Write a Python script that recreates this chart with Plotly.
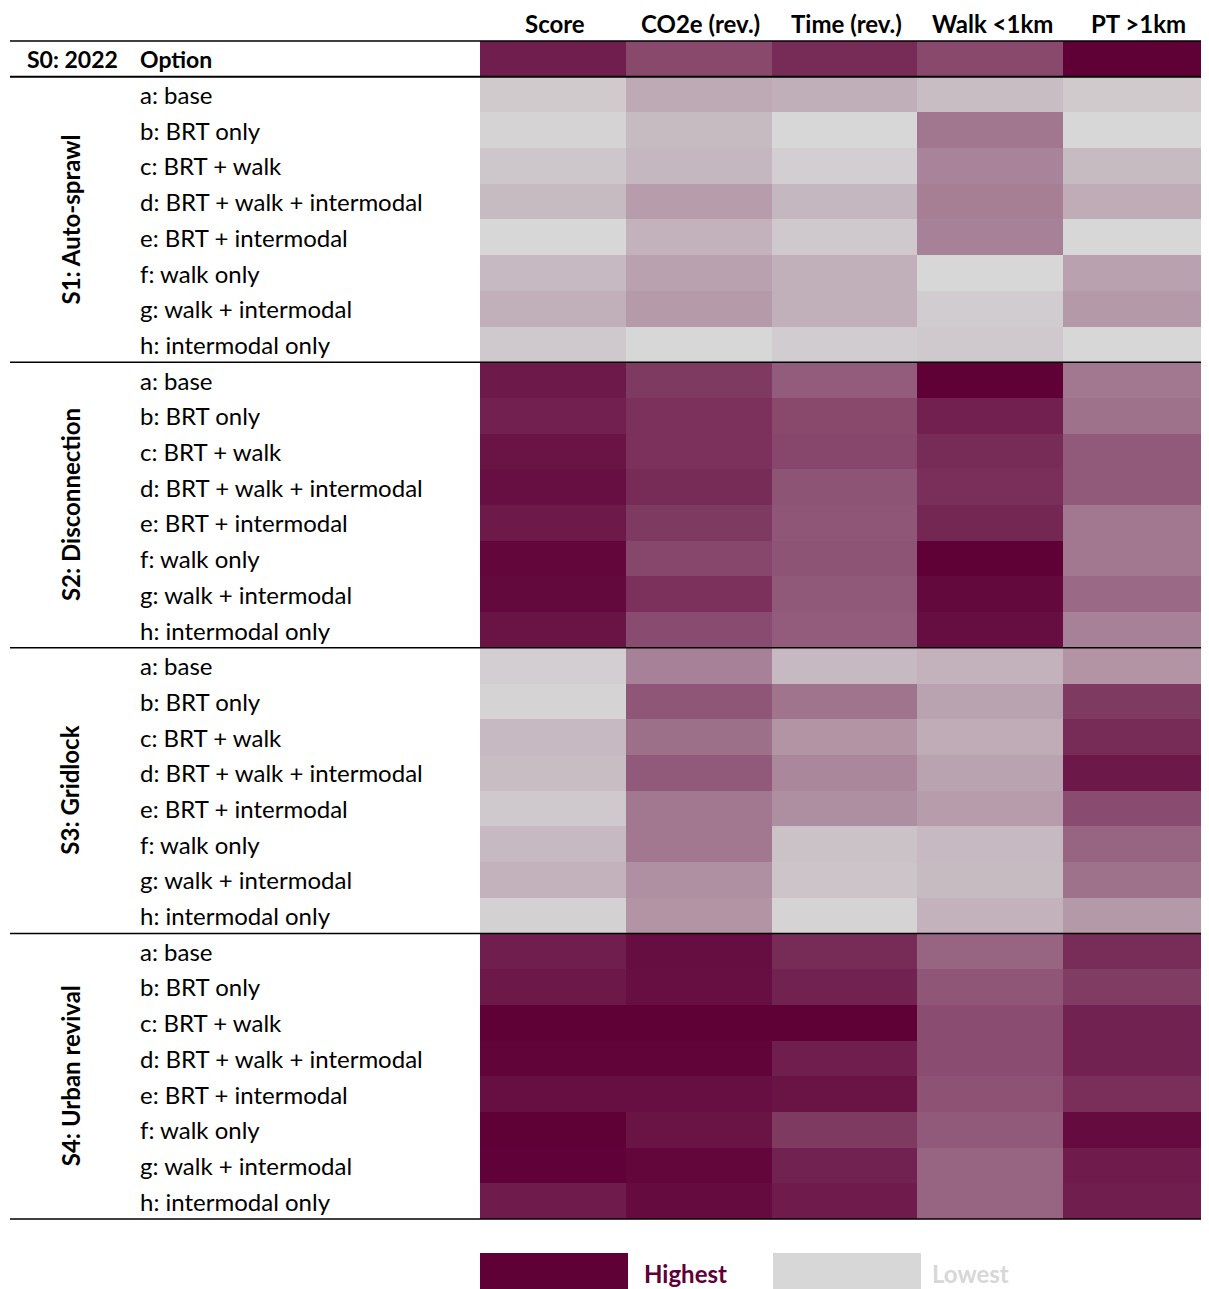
import plotly.graph_objects as go

# the page places the figure 8px in from the top-left corner
OFF = 8
W, H = 1209 - OFF, 1289 - OFF

columns = ["Score", "CO2e (rev.)", "Time (rev.)", "Walk <1km", "PT >1km"]
scenarios = ["S1: Auto-sprawl", "S2: Disconnection", "S3: Gridlock", "S4: Urban revival"]
options = ["a: base", "b: BRT only", "c: BRT + walk", "d: BRT + walk + intermodal",
           "e: BRT + intermodal", "f: walk only", "g: walk + intermodal", "h: intermodal only"]

# relative level per cell (1 = highest, 0 = lowest); first value = S0: 2022, then S1..S4 a..h
score = [0.86,
         0.06, 0.02, 0.08, 0.13, 0.00, 0.14, 0.18, 0.07,
         0.88, 0.85, 0.91, 0.93, 0.88, 0.97, 0.96, 0.91,
         0.04, 0.02, 0.14, 0.12, 0.07, 0.14, 0.17, 0.03,
         0.86, 0.89, 1.00, 0.98, 0.93, 1.00, 0.99, 0.87]
co2e = [0.66,
        0.21, 0.13, 0.15, 0.27, 0.17, 0.25, 0.28, 0.00,
        0.73, 0.77, 0.77, 0.80, 0.73, 0.67, 0.77, 0.65,
        0.40, 0.60, 0.48, 0.58, 0.44, 0.44, 0.33, 0.31,
        0.94, 0.93, 1.00, 0.98, 0.93, 0.91, 0.97, 0.95]
time_rev = [0.80,
            0.19, 0.00, 0.04, 0.15, 0.07, 0.18, 0.18, 0.05,
            0.57, 0.66, 0.67, 0.61, 0.60, 0.61, 0.59, 0.57,
            0.14, 0.46, 0.31, 0.37, 0.34, 0.10, 0.09, 0.02,
            0.80, 0.84, 1.00, 0.86, 0.91, 0.73, 0.84, 0.87]
walk = [0.66,
        0.12, 0.45, 0.39, 0.41, 0.40, 0.00, 0.05, 0.07,
        1.00, 0.85, 0.80, 0.78, 0.82, 1.00, 0.96, 0.94,
        0.17, 0.24, 0.20, 0.24, 0.27, 0.14, 0.13, 0.17,
        0.53, 0.60, 0.64, 0.64, 0.62, 0.58, 0.53, 0.53]
pt = [1.00,
      0.06, 0.00, 0.13, 0.20, 0.00, 0.25, 0.29, 0.00,
      0.44, 0.47, 0.58, 0.58, 0.44, 0.44, 0.51, 0.40,
      0.31, 0.73, 0.80, 0.89, 0.65, 0.53, 0.47, 0.29,
      0.79, 0.72, 0.84, 0.84, 0.78, 0.95, 0.87, 0.86]

DARK = "#5f0037"
LIGHT = "#d7d7d7"

series = [score, co2e, time_rev, walk, pt]
nrows = len(score)
z = [[series[c][r] for c in range(len(columns))] for r in range(nrows)]


def px(x):
    return (x - OFF) / W


def py(y):
    return 1 - (y - OFF) / H


TOP, BOTTOM = 41, 1219
ROW_H = (BOTTOM - TOP) / nrows
LEFT, RIGHT = 480, 1209

fig = go.Figure(go.Heatmap(
    z=z, x=list(range(len(columns))), y=list(range(nrows)),
    colorscale=[[0, LIGHT], [1, DARK]], zmin=0, zmax=1, showscale=False,
    hoverinfo="skip"))

fig.update_xaxes(domain=[px(LEFT), min(1, px(RIGHT))], range=[-0.5, len(columns) - 0.5],
                 visible=False, fixedrange=True)
fig.update_yaxes(domain=[py(BOTTOM), py(TOP)], range=[nrows - 0.5, -0.5],
                 visible=False, fixedrange=True)

FONT = "Lato, 'Open Sans', sans-serif"
FS = 24


def note(x, y, text, anchor="left", color="black", angle=0, size=FS):
    return dict(x=px(x), y=py(y), xref="paper", yref="paper", text=text, showarrow=False,
                xanchor=anchor, yanchor="middle", textangle=angle,
                font=dict(size=size, color=color, family=FONT))


ann = []
col_w = (W + OFF - LEFT) / len(columns)
for i, c in enumerate(columns):
    ann.append(note(LEFT + (i + 0.5) * col_w + 2, 23, "<b>%s</b>" % c, anchor="center"))


def row_center(r):
    return TOP + (r + 0.5) * ROW_H


ann.append(note(25, row_center(0), "<b>S0: 2022</b>", size=23))
ann.append(note(138, row_center(0), "<b>Option</b>", size=23))

for g, s in enumerate(scenarios):
    r0 = 1 + g * len(options)
    for k, o in enumerate(options):
        ann.append(note(138, row_center(r0 + k), o))
    mid = TOP + (r0 + len(options) / 2) * ROW_H
    ann.append(note(70, mid, "<b>%s</b>" % s, anchor="center", angle=-90))

# legend
ann.append(note(642, 1273, "<b>Highest</b>", color=DARK))
ann.append(note(930, 1273, "<b>Lowest</b>", color=LIGHT))

shapes = []
line_rows = [0, 1, 1 + 8, 1 + 16, 1 + 24, 1 + 32]
for r in line_rows:
    yy = TOP + r * ROW_H
    shapes.append(dict(type="line", xref="paper", yref="paper", x0=px(10), x1=1,
                       y0=py(yy), y1=py(yy), line=dict(color="black", width=2 if r == 1 else 1.5)))
shapes.append(dict(type="rect", xref="paper", yref="paper", x0=px(480), x1=px(628),
                   y0=py(1289), y1=py(1253), fillcolor=DARK, line=dict(width=0)))
shapes.append(dict(type="rect", xref="paper", yref="paper", x0=px(773), x1=px(921),
                   y0=py(1289), y1=py(1253), fillcolor=LIGHT, line=dict(width=0)))

fig.update_layout(width=W, height=H, autosize=False, margin=dict(l=0, r=0, t=0, b=0),
                  paper_bgcolor="white", plot_bgcolor="white",
                  annotations=ann, shapes=shapes, font=dict(family=FONT))

fig.write_html("out.html")
